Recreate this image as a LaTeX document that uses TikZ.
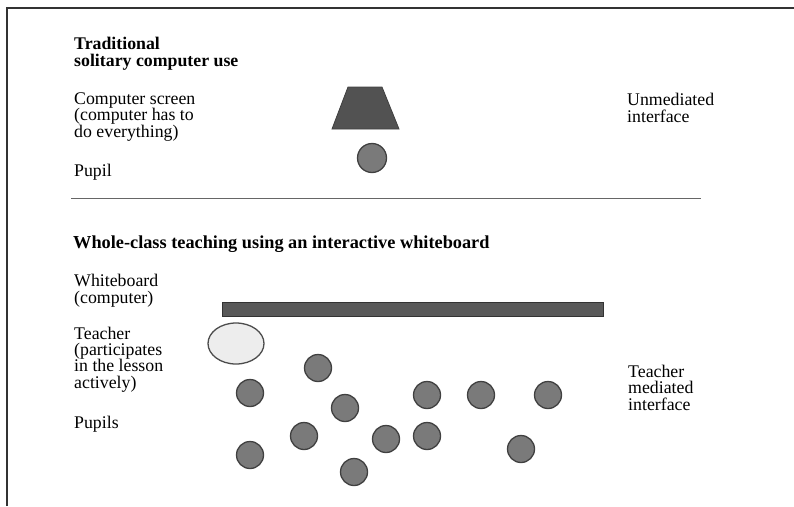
\documentclass[tikz,border=0pt]{standalone}
\usepackage{fontspec}
\setmainfont{Liberation Serif}
\usetikzlibrary{shapes.geometric}
\begin{document}
\begin{tikzpicture}[x=1pt,y=-1pt,
  lbl/.style={anchor=base west,inner sep=0pt,align=left,font=\fontsize{17.8}{16.3}\selectfont},
  head/.style={lbl,font=\fontsize{17.8}{16.3}\selectfont\bfseries},
  pupil/.style={circle,draw=black!75,line width=1.3pt,fill=black!52,minimum size=27pt,inner sep=0pt},
  framel/.style={draw=black!80,line width=2pt}]
\useasboundingbox (0,0) rectangle (794,506);
% frame
\coordinate (fl) at (7,506);
\coordinate (ftl) at (7,7.5);
\coordinate (fr) at (794,7.5);
\draw[framel] (fl) -- (ftl) -- (fr);
% top section (anchors at the baseline of the last line)
\node[head] (h1) at (74,66) {Traditional\\solitary computer use};
\node[lbl] (cs) at (74,137) {Computer screen\\(computer has to\\do everything)};
\node[lbl] (pl) at (74,176) {Pupil};
\node[lbl] (um) at (627,122) {Unmediated\\interface};
\coordinate (t1) at (348,87);
\coordinate (t2) at (382,87);
\coordinate (t3) at (399,129);
\coordinate (t4) at (332,129);
\draw[fill=black!68,draw=black!75,line width=0.8pt] (t1) -- (t2) -- (t3) -- (t4) -- cycle;
\node[pupil,minimum width=27pt,minimum height=29pt] (p0) at (372,158) {};
% divider
\coordinate (d1) at (71,198.5);
\coordinate (d2) at (701,198.5);
\draw[black!60,line width=1.2pt] (d1) -- (d2);
% bottom section
\node[head,font=\fontsize{18.3}{16.3}\selectfont\bfseries] (h2) at (73,248) {Whole-class teaching using an interactive whiteboard};
\node[lbl] (wb) at (74,303) {Whiteboard\\(computer)};
\node[lbl] (te) at (74,388) {Teacher\\(participates\\in the lesson\\actively)};
\node[lbl] (ps) at (74,428) {Pupils};
\node[lbl] (tm) at (628,410) {Teacher\\mediated\\interface};
\node[draw=black!80,fill=black!65,line width=1pt,minimum width=381pt,minimum height=14pt,inner sep=0pt] (board) at (412.5,309) {};
\node[ellipse,draw=black!70,fill=black!7,line width=1.3pt,minimum width=56pt,minimum height=41pt,inner sep=0pt] (teacher) at (236,343.5) {};
\node[pupil] (a1) at (250,393) {};
\node[pupil] (a2) at (318,368) {};
\node[pupil] (a3) at (345,408) {};
\node[pupil] (a4) at (427,395) {};
\node[pupil] (a5) at (481,395) {};
\node[pupil] (a6) at (548,395) {};
\node[pupil] (a7) at (304,436) {};
\node[pupil] (a8) at (386,439) {};
\node[pupil] (a9) at (427,436) {};
\node[pupil] (a10) at (250,455) {};
\node[pupil] (a11) at (354,472) {};
\node[pupil] (a12) at (521,449) {};
\end{tikzpicture}
\end{document}
